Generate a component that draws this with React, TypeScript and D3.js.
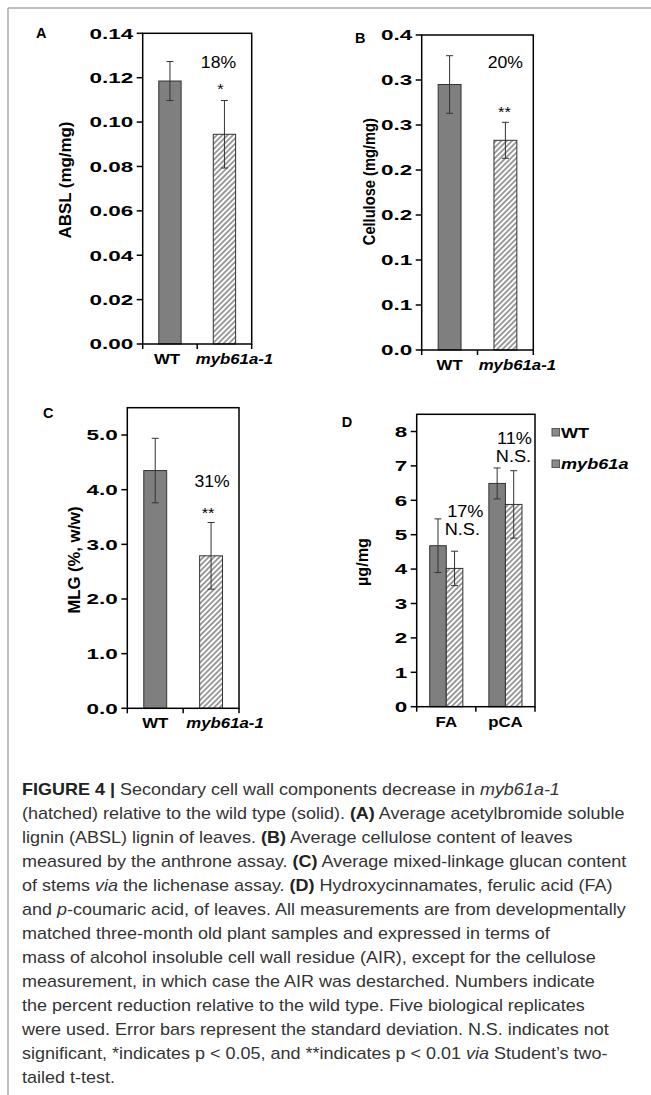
import React from "react";
import * as d3 from "d3";

// ---- data ----
const genotypes = ["WT", "myb61a-1"];

// A: acetyl bromide soluble lignin (mg/mg)
const abslMean = [0.1185, 0.0945];
const abslSd = [0.0088, 0.0152];
const abslTicks = [0, 0.02, 0.04, 0.06, 0.08, 0.1, 0.12, 0.14];
const abslTickLabels = ["0.00", "0.02", "0.04", "0.06", "0.08", "0.10", "0.12", "0.14"];

// B: cellulose (mg/mg) - excel rounded the 0.05 steps to one decimal
const celluloseMean = [0.295, 0.233];
const celluloseSd = [0.032, 0.02];
const celluloseTicks = [0, 0.05, 0.1, 0.15, 0.2, 0.25, 0.3, 0.35];
const celluloseTickLabels = ["0.0", "0.1", "0.1", "0.2", "0.2", "0.3", "0.3", "0.4"];

// C: mixed linkage glucan (%, w/w)
const mlgMean = [4.35, 2.79];
const mlgSd = [0.59, 0.61];
const mlgTicks = [0, 1, 2, 3, 4, 5];
const mlgTickLabels = ["0.0", "1.0", "2.0", "3.0", "4.0", "5.0"];

// D: hydroxycinnamates (ug/mg)
const acids = ["FA", "pCA"];
const acidSeriesNames = ["WT", "myb61a"];
const acidWtMean = [4.68, 6.49];
const acidWtSd = [0.78, 0.45];
const acidMutMean = [4.02, 5.88];
const acidMutSd = [0.5, 0.98];
const acidTicks = [0, 1, 2, 3, 4, 5, 6, 7, 8];
const acidTickLabels = ["0", "1", "2", "3", "4", "5", "6", "7", "8"];

const reductionA = ["18%", "*"];
const reductionB = ["20%", "**"];
const reductionC = ["31%", "**"];
const reductionFA = ["17%", "N.S."];
const reductionPCA = ["11%", "N.S."];

// caption, one entry per printed line: [text, style] pieces (b = bold, i = italic)
const caption: [string, string][][] = [
  [["FIGURE 4 | ", "b"], ["Secondary cell wall components decrease in ", ""], ["myb61a-1", "i"]],
  [["(hatched) relative to the wild type (solid). ", ""], ["(A)", "b"], [" Average acetylbromide soluble", ""]],
  [["lignin (ABSL) lignin of leaves. ", ""], ["(B)", "b"], [" Average cellulose content of leaves", ""]],
  [["measured by the anthrone assay. ", ""], ["(C)", "b"], [" Average mixed-linkage glucan content", ""]],
  [["of stems ", ""], ["via", "i"], [" the lichenase assay. ", ""], ["(D)", "b"], [" Hydroxycinnamates, ferulic acid (FA)", ""]],
  [["and ", ""], ["p", "i"], ["-coumaric acid, of leaves. All measurements are from developmentally", ""]],
  [["matched three-month old plant samples and expressed in terms of", ""]],
  [["mass of alcohol insoluble cell wall residue (AIR), except for the cellulose", ""]],
  [["measurement, in which case the AIR was destarched. Numbers indicate", ""]],
  [["the percent reduction relative to the wild type. Five biological replicates", ""]],
  [["were used. Error bars represent the standard deviation. N.S. indicates not", ""]],
  [["significant, *indicates p < 0.05, and **indicates p < 0.01 ", ""], ["via", "i"], [" Student\u2019s two-", ""]],
  [["tailed t-test.", ""]],
];

const FONT = "'Liberation Sans', Arial, Helvetica, sans-serif";
const SOLID = "#7f7f7f";
const EDGE = "#333";

type Series = { name: string; mean: number[]; sd: number[]; hatched: boolean[] };
type Note = { cat: number; text: string; v: number; dx: number; size: number };

type PanelProps = {
  letter: string;
  letterX: number;
  letterY: number;
  box: [number, number, number, number]; // left, right, top, bottom of the plot frame
  yMax: number;
  ticks: number[];
  tickLabels: string[];
  categories: string[];
  catDx: number[];
  series: Series[];
  title: string;
  titleX: number;
  titleY: number;
  titleSize: number;
  titleLen: number;
  notes: Note[];
};

// the figure's horizontal text runs wide, so squash/stretch it in x only
function WideText(props: {
  x: number;
  y: number;
  sx: number;
  size: number;
  anchor: string;
  weight?: string;
  italic?: boolean;
  children: React.ReactNode;
}) {
  const { x, y, sx, size, anchor, weight, italic, children } = props;
  return (
    <text
      transform={`translate(${x},${y}) scale(${sx},1)`}
      fontSize={size}
      fontWeight={weight || "bold"}
      fontStyle={italic ? "italic" : "normal"}
      textAnchor={anchor}
      fill="#000"
    >
      {children}
    </text>
  );
}

function Panel(p: PanelProps) {
  const [x0, x1, yTop, yBottom] = p.box;
  const y = d3.scaleLinear().domain([0, p.yMax]).range([yBottom, yTop]);
  const pad = p.series.length === 1 ? 0.59 : 0.44;
  const x = d3
    .scaleBand<string>()
    .domain(p.categories)
    .range([x0, x1])
    .paddingInner(pad)
    .paddingOuter(pad / 2);
  const xs = d3
    .scaleBand<string>()
    .domain(p.series.map((s) => s.name))
    .range([0, x.bandwidth()]);
  const bounds = d3.range(p.categories.length + 1).map((i) => x0 + i * x.step());

  return (
    <g fontFamily={FONT}>
      <text x={p.letterX} y={p.letterY} fontSize={14.5} fontWeight="bold">
        {p.letter}
      </text>

      {p.series.map((s) =>
        p.categories.map((c, i) => {
          const bx = (x(c) as number) + (xs(s.name) as number);
          const w = xs.bandwidth();
          const cx = bx + w / 2;
          const hi = y(s.mean[i] + s.sd[i]);
          const lo = y(s.mean[i] - s.sd[i]);
          return (
            <g key={s.name + c}>
              <rect
                x={bx}
                y={y(s.mean[i])}
                width={w}
                height={y(0) - y(s.mean[i])}
                fill={s.hatched[i] ? "url(#hatch)" : SOLID}
                stroke={EDGE}
                strokeWidth={1}
              />
              <g stroke={EDGE} strokeWidth={1}>
                <line x1={cx} x2={cx} y1={hi} y2={lo} />
                <line x1={cx - 3.5} x2={cx + 3.5} y1={hi} y2={hi} />
                <line x1={cx - 3.5} x2={cx + 3.5} y1={lo} y2={lo} />
              </g>
            </g>
          );
        })
      )}

      {/* frame */}
      <rect x={x0} y={yTop} width={x1 - x0} height={yBottom - yTop} fill="none" stroke="#000" strokeWidth={1.5} />

      {/* y axis */}
      {p.ticks.map((t, i) => (
        <g key={"t" + i}>
          <line x1={x0 - 6} x2={x0} y1={y(t)} y2={y(t)} stroke="#000" strokeWidth={1.5} />
          <WideText x={x0 - 9.5} y={y(t) + 5.3} sx={1.55} size={14.5} anchor="end">
            {p.tickLabels[i]}
          </WideText>
        </g>
      ))}

      {/* x axis */}
      {bounds.map((b, i) => (
        <line key={"b" + i} x1={b} x2={b} y1={yBottom} y2={yBottom + 5} stroke="#000" strokeWidth={1.5} />
      ))}
      {p.categories.map((c, i) => (
        <WideText
          key={"c" + c}
          x={(x(c) as number) + x.bandwidth() / 2 + p.catDx[i]}
          y={yBottom + 20}
          sx={1.2}
          size={14}
          anchor="middle"
          italic={c.startsWith("myb")}
        >
          {c}
        </WideText>
      ))}

      <text
        transform={`translate(${p.titleX},${p.titleY}) rotate(-90)`}
        fontSize={p.titleSize}
        fontWeight="bold"
        textAnchor="middle"
        textLength={p.titleLen}
        lengthAdjust="spacingAndGlyphs"
      >
        {p.title}
      </text>

      {p.notes.map((n, i) => (
        <WideText
          key={"n" + i}
          x={(x(p.categories[n.cat]) as number) + x.bandwidth() / 2 + n.dx}
          y={y(n.v)}
          sx={1.1}
          size={n.size}
          anchor="middle"
          weight="normal"
        >
          {n.text}
        </WideText>
      ))}
    </g>
  );
}

const mutantHatch = genotypes.map((g) => g !== "WT");

export default function App() {
  return (
    <svg width={651} height={1095} style={{ position: "absolute", left: 0, top: 0, background: "#fff" }}>
      <defs>
        <pattern id="hatch" patternUnits="userSpaceOnUse" width={3.8} height={3.8} patternTransform="rotate(45)">
          <rect width={3.8} height={3.8} fill="#fff" />
          <line x1={1.9} x2={1.9} y1={0} y2={3.8} stroke="#6a6a6a" strokeWidth={1.3} />
        </pattern>
      </defs>

      <line x1={8} x2={651} y1={8} y2={8} stroke="#a8a8a8" strokeWidth={1.5} />
      <line x1={8} x2={8} y1={8} y2={1095} stroke="#a8a8a8" strokeWidth={1.5} />

      <Panel
        letter="A" letterX={36} letterY={38}
        box={[142.7, 251.7, 33.3, 344]} yMax={0.14}
        ticks={abslTicks} tickLabels={abslTickLabels}
        categories={genotypes} catDx={[-3, 10]}
        series={[{ name: "genotype", mean: abslMean, sd: abslSd, hatched: mutantHatch }]}
        title="ABSL (mg/mg)" titleX={71} titleY={180} titleSize={16.5} titleLen={117}
        notes={[
          { cat: 1, text: reductionA[0], v: 0.1244, dx: -6, size: 16 },
          { cat: 1, text: reductionA[1], v: 0.1128, dx: -4, size: 15 },
        ]}
      />
      <Panel
        letter="B" letterX={355} letterY={43}
        box={[421.7, 533.3, 35, 350]} yMax={0.35}
        ticks={celluloseTicks} tickLabels={celluloseTickLabels}
        categories={genotypes} catDx={[0, 12]}
        series={[{ name: "genotype", mean: celluloseMean, sd: celluloseSd, hatched: mutantHatch }]}
        title="Cellulose (mg/mg)" titleX={375} titleY={181.7} titleSize={16} titleLen={127}
        notes={[
          { cat: 1, text: reductionB[0], v: 0.313, dx: 0, size: 16 },
          { cat: 1, text: reductionB[1], v: 0.259, dx: -1, size: 15 },
        ]}
      />
      <Panel
        letter="C" letterX={43} letterY={418}
        box={[127.3, 239, 407.7, 708.3]} yMax={5.5}
        ticks={mlgTicks} tickLabels={mlgTickLabels}
        categories={genotypes} catDx={[0, 14]}
        series={[{ name: "genotype", mean: mlgMean, sd: mlgSd, hatched: mutantHatch }]}
        title="MLG (%, w/w)" titleX={80} titleY={560} titleSize={16.5} titleLen={107}
        notes={[
          { cat: 1, text: reductionC[0], v: 4.04, dx: 1, size: 16 },
          { cat: 1, text: reductionC[1], v: 3.48, dx: -3, size: 15 },
        ]}
      />
      <Panel
        letter="D" letterX={341.7} letterY={427}
        box={[416.7, 535, 414.3, 706.7]} yMax={8.5}
        ticks={acidTicks} tickLabels={acidTickLabels}
        categories={acids} catDx={[0, 0]}
        series={[
          { name: acidSeriesNames[0], mean: acidWtMean, sd: acidWtSd, hatched: acids.map(() => false) },
          { name: acidSeriesNames[1], mean: acidMutMean, sd: acidMutSd, hatched: acids.map(() => true) },
        ]}
        title={"\u00b5g/mg"} titleX={368} titleY={562} titleSize={16} titleLen={48}
        notes={[
          { cat: 0, text: reductionFA[0], v: 5.52, dx: 19, size: 16.5 },
          { cat: 0, text: reductionFA[1], v: 4.99, dx: 16, size: 16.5 },
          { cat: 1, text: reductionPCA[0], v: 7.63, dx: 9, size: 16.5 },
          { cat: 1, text: reductionPCA[1], v: 7.12, dx: 8, size: 16.5 },
        ]}
      />

      {/* legend for D */}
      <g fontFamily={FONT}>
        {acidSeriesNames.map((s, i) => (
          <g key={s}>
            <rect x={552} y={428.5 + i * 31.5} width={7.5} height={7.5} fill="#8a8a8a" stroke="#555" strokeWidth={1} />
            <WideText x={561} y={437.5 + i * 31.5} sx={1.25} size={14.5} anchor="start" italic={i === 1}>
              {s}
            </WideText>
          </g>
        ))}
      </g>

      {/* caption */}
      <g fontFamily={FONT} fontSize={16} fill="#333" transform="translate(22,0) scale(1.125,1)">
        {caption.map((line, li) => (
          <text key={li} x={0} y={795 + li * 24}>
            {line.map(([t, st], k) => (
              <tspan
                key={k}
                fontWeight={st === "b" ? "bold" : "normal"}
                fontStyle={st === "i" ? "italic" : "normal"}
                fill={st === "b" ? "#222" : "#333"}
              >
                {t}
              </tspan>
            ))}
          </text>
        ))}
      </g>
    </svg>
  );
}
